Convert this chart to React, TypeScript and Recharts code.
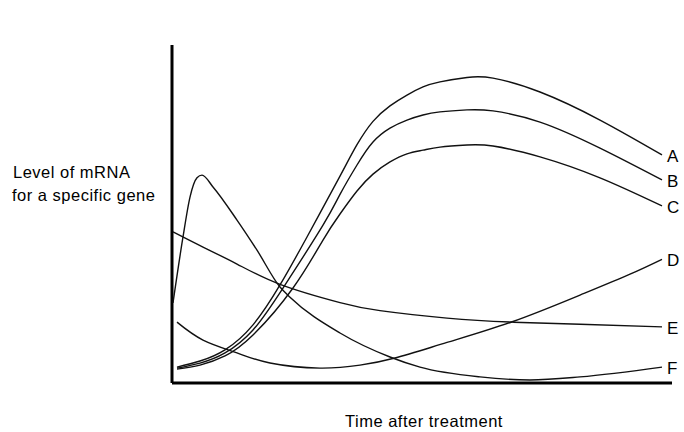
import React from 'react'
import { LineChart, Line, XAxis, YAxis, ReferenceLine } from 'recharts'

// time after treatment (0-100) and mRNA level (0-100, arbitrary units)
const tA = [1, 5.6, 10.6, 16.2, 21.6, 27, 33.6, 37, 40.2, 43.6, 47, 50.2, 53.6, 59, 64.2, 73.6, 85.6, 98]
const vA = [4.7, 6.5, 9.8, 17.2, 29, 43.2, 61.2, 70.5, 77.4, 82, 85.2, 87.6, 89.1, 90.4, 90.2, 86.1, 77.8, 67.5]

const tB = [1, 5.6, 10.6, 16.2, 22.2, 30.2, 33.6, 37, 40.2, 43.6, 47, 50.2, 53.6, 59, 64.2, 73.6, 85.6, 98]
const vB = [4.4, 5.9, 8.9, 15.7, 28.1, 46.7, 55.8, 64.5, 71.3, 75.4, 77.8, 79.3, 80.2, 80.8, 80.5, 77.2, 69.5, 60.1]

const tC = [1, 5.6, 10.6, 16.2, 24.2, 30.2, 33.6, 37, 40.2, 43.6, 47, 50.2, 53.6, 59, 64.2, 73.6, 85.6, 98]
const vC = [4.1, 5.3, 8, 14.2, 28.1, 42.3, 50, 56.8, 61.8, 65.4, 67.8, 68.9, 69.8, 70.4, 70.1, 66.9, 60.7, 52.4]

const tD = [1, 6.2, 13, 19.6, 29.6, 37.6, 44.6, 55, 68.2, 81.6, 91.6, 98]
const vD = [18, 12.7, 8.9, 5.9, 4.4, 5.3, 7.4, 12, 18.2, 26, 32.2, 36.6]

const tE = [0.2, 6.2, 13, 21.6, 33.6, 41.6, 55, 68.2, 81.6, 98]
const vE = [44.7, 40.2, 35.2, 29.2, 23.8, 21.4, 19.2, 18, 17.4, 16.6]

const tF = [0.2, 2.2, 3.6, 5, 6, 8.2, 13, 17, 21.6, 23.6, 33.6, 43.6, 49.6, 61.6, 71.6, 81.6, 98]
const vF = [23.7, 43.2, 55, 60.7, 61.5, 58, 48.2, 39.3, 28.4, 25.4, 14.8, 7.7, 4.7, 1.8, 0.9, 1.8, 4.7]

const names = ['A', 'B', 'C', 'D', 'E', 'F']
const times = [tA, tB, tC, tD, tE, tF]
const levels = [vA, vB, vC, vD, vE, vF]
const curveTypes = ['natural', 'natural', 'natural', 'natural', 'natural', 'monotone']

const series = names.map((name, i) => ({
  name,
  curve: curveTypes[i],
  data: times[i].map((t, j) => ({ t, v: levels[i][j] })),
}))

const font = '"Liberation Sans", Arial, sans-serif'

const endLabel = (name: string, last: number) => (props: any) => {
  const { x, y, index } = props
  if (index !== last) return <g />
  return (
    <text x={x + 5} y={y + 7} fontSize={17} fontFamily={font} fill="#000">
      {name}
    </text>
  )
}

const App = () => {
  return (
    <div style={{ position: 'absolute', left: 0, top: 0, background: '#fff' }}>
      <LineChart width={684} height={432} margin={{ top: 45, right: 12, left: 172, bottom: 49 }}>
        <XAxis type="number" dataKey="t" domain={[0, 100]} hide />
        <YAxis type="number" dataKey="v" domain={[0, 100]} hide />
        <ReferenceLine x={0} stroke="#000" strokeWidth={3} />
        <ReferenceLine y={0} stroke="#000" strokeWidth={3} />
        {series.map((s) => (
          <Line
            key={s.name}
            data={s.data}
            dataKey="v"
            type={s.curve as any}
            stroke="#111"
            strokeWidth={1.4}
            dot={false}
            isAnimationActive={false}
            label={endLabel(s.name, s.data.length - 1)}
          />
        ))}
        <text x={13} y={178} fontSize={16.5} letterSpacing={0.5} fontFamily={font} fill="#000">
          Level of mRNA
        </text>
        <text x={12} y={201} fontSize={16.5} letterSpacing={0.5} fontFamily={font} fill="#000">
          for a specific gene
        </text>
        <text x={345} y={427} fontSize={16.5} letterSpacing={0.5} fontFamily={font} fill="#000">
          Time after treatment
        </text>
      </LineChart>
    </div>
  )
}

export default App
